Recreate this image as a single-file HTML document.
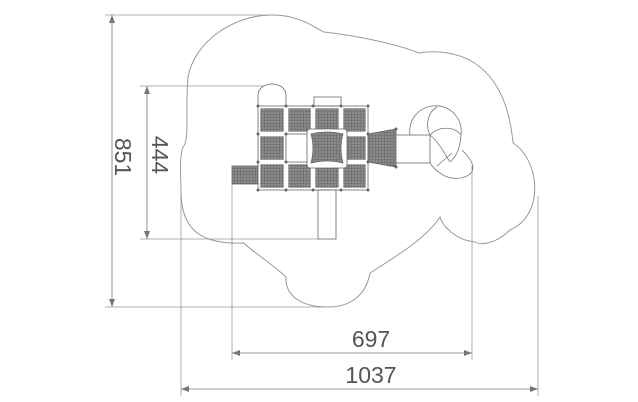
<!DOCTYPE html>
<html><head><meta charset="utf-8"><style>
html,body{margin:0;padding:0;background:#fff;}
svg{display:block;}
text{font-family:"Liberation Sans",sans-serif;fill:#555;}
</style></head><body>
<svg width="638" height="402" viewBox="0 0 638 402" xmlns="http://www.w3.org/2000/svg">
<defs>
<pattern id="h" width="3" height="3" patternUnits="userSpaceOnUse">
<rect width="3" height="3" fill="#8a8a8a"/><path d="M0 0H3M0 0V3" stroke="#5e5e5e" stroke-width="0.8"/>
</pattern>
<marker id="a" markerWidth="8" markerHeight="6" refX="8" refY="3" orient="auto-start-reverse" markerUnits="userSpaceOnUse">
<path d="M0 0L8 3L0 6z" fill="#777"/></marker>
</defs>
<path d="M272,15 C300,15 315,28 324,32 C360,36 400,45 419,53 C450,48 505,55 513,143 C540,160 545,215 510,230 C495,245 480,245 475,242 C455,240 442,225 440,217 C425,240 390,260 370,273 C365,300 345,307 328,307 C300,307 285,295 286,277 C270,262 250,250 244,243 C195,245 180,225 181,187 C180,170 180,155 183,147 C190,140 185,110 188,77 C195,40 235,15 272,15 Z" fill="none" stroke="#999" stroke-width="1"/>
<g stroke="#999" stroke-width="0.8" fill="none">
<line x1="105" y1="15" x2="272" y2="15"/>
<line x1="105" y1="307" x2="328" y2="307"/>
<line x1="140" y1="86" x2="272" y2="86"/>
<line x1="140" y1="239" x2="318" y2="239"/>
<line x1="232" y1="184" x2="232" y2="360"/>
<line x1="472" y1="165" x2="472" y2="360"/>
<line x1="181" y1="190" x2="181" y2="396"/>
<line x1="538" y1="196" x2="538" y2="396"/>
</g>
<g stroke="#777" stroke-width="0.8">
<line x1="112" y1="15" x2="112" y2="307" marker-start="url(#a)" marker-end="url(#a)"/>
<line x1="147" y1="86" x2="147" y2="239" marker-start="url(#a)" marker-end="url(#a)"/>
<line x1="232" y1="353" x2="472" y2="353" marker-start="url(#a)" marker-end="url(#a)"/>
<line x1="181" y1="389" x2="538" y2="389" marker-start="url(#a)" marker-end="url(#a)"/>
</g>
<text x="371" y="347" font-size="23" text-anchor="middle">697</text>
<text x="371" y="383" font-size="23" text-anchor="middle">1037</text>
<text transform="translate(115,157) rotate(90)" font-size="23" text-anchor="middle">851</text>
<text transform="translate(152,155) rotate(90)" font-size="23" text-anchor="middle">444</text>
<g stroke="#666" stroke-width="0.8">
<path d="M258,106 V95 A14,11 0 0 1 286,95 V106" fill="#fff"/>
<rect x="314" y="97" width="27" height="9" fill="#fff"/>
<rect x="318" y="190" width="18" height="49" fill="#fff"/>
<rect x="232" y="166" width="26" height="18" fill="url(#h)"/>
</g>
<g stroke="#fff" stroke-width="1.6" fill="url(#h)">
<rect x="259.5" y="107.5" width="25" height="25"/>
<rect x="287.5" y="107.5" width="24" height="25"/>
<rect x="314.5" y="107.5" width="25" height="25"/>
<rect x="342.5" y="107.5" width="24" height="25"/>
<rect x="259.5" y="135.5" width="25" height="25"/>
<rect x="342.5" y="135.5" width="24" height="25"/>
<rect x="259.5" y="163.5" width="25" height="25"/>
<rect x="287.5" y="163.5" width="24" height="25"/>
<rect x="314.5" y="163.5" width="25" height="25"/>
<rect x="342.5" y="163.5" width="24" height="25"/>
</g>
<g stroke="#666" stroke-width="0.8" fill="none">
<rect x="258" y="106" width="110" height="84"/>
<rect x="286" y="134" width="27" height="28" fill="#fff"/>
</g>
<g stroke="#666" stroke-width="0.8">
<rect x="307" y="129" width="40" height="39" rx="3" fill="#fff"/>
<path d="M311,134 Q327,130 343,134 Q339,148 343,163 Q327,159 311,163 Q315,148 311,134Z" fill="url(#h)"/>
<path d="M368,134 L396,129 V167 L368,162Z" fill="url(#h)"/>
<rect x="396" y="135" width="34" height="28" fill="#fff"/>
</g>
<g fill="#666">
<circle cx="258" cy="106" r="1.5"/><circle cx="286" cy="106" r="1.5"/><circle cx="313" cy="106" r="1.5"/><circle cx="341" cy="106" r="1.5"/><circle cx="368" cy="106" r="1.5"/>
<circle cx="258" cy="134" r="1.5"/><circle cx="286" cy="134" r="1.5"/><circle cx="368" cy="134" r="1.5"/>
<circle cx="258" cy="162" r="1.5"/><circle cx="286" cy="162" r="1.5"/><circle cx="368" cy="162" r="1.5"/>
<circle cx="258" cy="190" r="1.5"/><circle cx="286" cy="190" r="1.5"/><circle cx="313" cy="190" r="1.5"/><circle cx="341" cy="190" r="1.5"/><circle cx="368" cy="190" r="1.5"/>
<circle cx="396" cy="129" r="1.5"/><circle cx="396" cy="167" r="1.5"/>
</g>
<g stroke="#777" stroke-width="0.8" fill="none">
<path d="M410,135 C408,120 418,108 432,106 C450,104 463,118 461,135 C460,150 455,158 450,162"/>
<path d="M430,135 C425,125 428,112 437,107"/>
<path d="M430,135 C440,125 455,127 461,135"/>
<path d="M430,135 C440,143 445,155 450,162"/>
<path d="M430,163 C433,168 438,172 443,175 C452,180 465,180 472,172 C475,165 470,158 462,150"/>
<path d="M437,166 L452,153"/>
</g>
</svg>
</body></html>
